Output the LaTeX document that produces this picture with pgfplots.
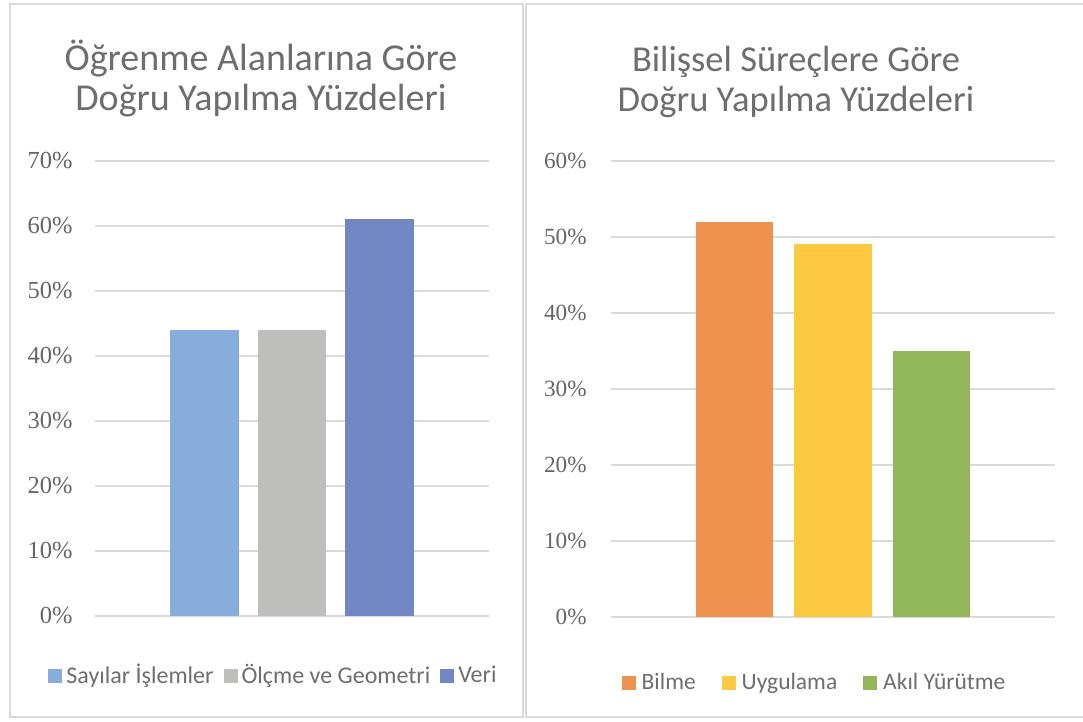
\documentclass[border=0pt]{standalone}
\usepackage{fontspec}
\setmainfont{Liberation Serif}
\newfontfamily\calibri{Carlito}
\usepackage{pgfplots}
\pgfplotsset{compat=1.18}
\definecolor{txt}{HTML}{666666}
\definecolor{ttl}{HTML}{6E6E6E}
\definecolor{gridc}{HTML}{D9D9D9}
\definecolor{cA}{HTML}{86ADDB}
\definecolor{cB}{HTML}{BEBEBD}
\definecolor{cC}{HTML}{7186C2}
\definecolor{cD}{HTML}{EE914E}
\definecolor{cE}{HTML}{FDC940}
\definecolor{cF}{HTML}{92B75A}
\pgfplotsset{
  mybar/.style={
    scale only axis, anchor=south west,
    enlargelimits=false,
    xmin=-0.257, xmax=4.257, ymin=0,
    xtick=\empty,
    ymajorgrids, grid style={draw=gridc, line width=1pt},
    axis line style={draw=none}, tick style={draw=none}, major tick length=0pt,
    /pgf/number format/assume math mode=true,
    yticklabel={\pgfmathprintnumber{\tick}\%},
    yticklabel style={text=txt, inner sep=0pt, anchor=east, xshift=-11pt},
    legend columns=3,
    legend style={draw=none, fill=none, inner sep=0pt, anchor=center, text=ttl,
      nodes={inner sep=0pt, anchor=west}},
  },
  sq/.style={ybar, bar shift=0pt, bar width=0.79, fill=#1, draw=none,
    legend image code/.code={\fill[#1] (0pt,-3.5pt) rectangle (7pt,3.5pt);}},
}
\begin{document}
\begin{tikzpicture}
\path[use as bounding box, fill=white] (0,0) rectangle (541.5pt,361pt);
\draw[gridc, line width=1pt] (5pt,2.3pt) rectangle (261.5pt,358.8pt);
\draw[gridc, line width=1pt] (263pt,2.3pt) rectangle (543pt,358.8pt);

\begin{axis}[mybar,
  at={(47.5pt,53pt)}, width=197pt, height=227.65pt,
  ymax=70, ytick={0,10,...,70},
  yticklabel style={font=\fontsize{12.25pt}{14pt}\selectfont},
  legend style={at={(0.4505,-0.131)}, font=\calibri\fontsize{12pt}{14pt}\selectfont,
    /tikz/every odd column/.style={column sep=2pt},
    /tikz/every even column/.style={column sep=5pt}},
]
\addplot[sq=cA] coordinates {(1,44)};
\addlegendentry{Sayılar İşlemler}
\addplot[sq=cB] coordinates {(2,44)};
\addlegendentry{Ölçme ve Geometri}
\addplot[sq=cC] coordinates {(3,61)};
\addlegendentry{Veri}
\end{axis}

\begin{axis}[mybar,
  at={(305.5pt,52.65pt)}, width=222pt, height=228pt,
  ymax=60, ytick={0,10,...,60},
  yticklabel style={font=\fontsize{11.6pt}{14pt}\selectfont, xshift=-1pt},
  legend style={at={(0.456,-0.1454)}, font=\calibri\fontsize{11.75pt}{14pt}\selectfont,
    /tikz/every odd column/.style={column sep=3pt},
    /tikz/every even column/.style={column sep=13pt}},
]
\addplot[sq=cD] coordinates {(1,52)};
\addlegendentry{Bilme}
\addplot[sq=cE] coordinates {(2,49)};
\addlegendentry{Uygulama}
\addplot[sq=cF] coordinates {(3,35)};
\addlegendentry{Akıl Yürütme}
\end{axis}

\node[font=\calibri\fontsize{19pt}{18pt}\selectfont, text=ttl, anchor=base] at (130.5pt,325.8pt) {Öğrenme Alanlarına Göre};
\node[font=\calibri\fontsize{19pt}{18pt}\selectfont, text=ttl, anchor=base] at (130.5pt,305.8pt) {Doğru Yapılma Yüzdeleri};
\node[font=\calibri\fontsize{18.25pt}{18pt}\selectfont, text=ttl, anchor=base] at (398pt,325.3pt) {Bilişsel Süreçlere Göre};
\node[font=\calibri\fontsize{18.25pt}{18pt}\selectfont, text=ttl, anchor=base] at (398pt,305pt) {Doğru Yapılma Yüzdeleri};
\end{tikzpicture}
\end{document}
